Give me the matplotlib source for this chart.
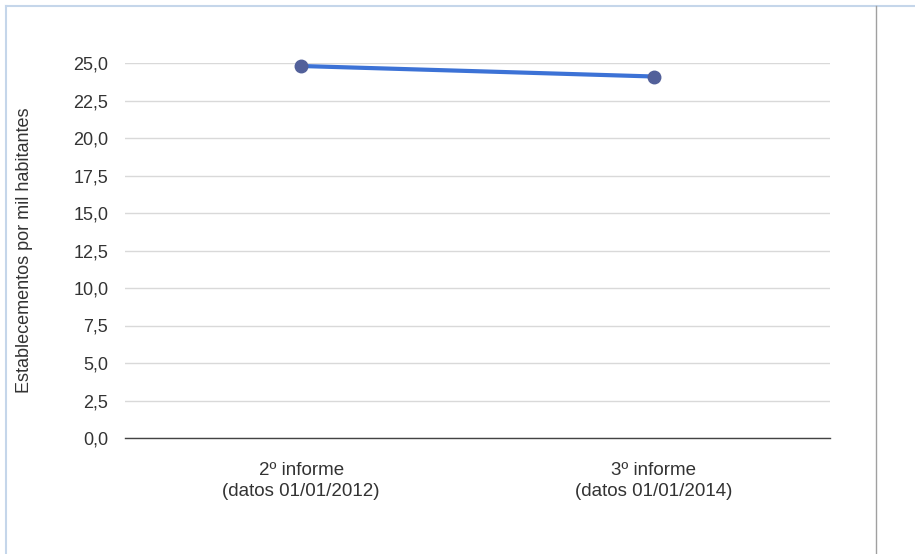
import matplotlib.pyplot as plt
from matplotlib.lines import Line2D

categories = ['2º informe\n(datos 01/01/2012)', '3º informe\n(datos 01/01/2014)']
values = [24.8, 24.1]
y_ticks = [0, 2.5, 5, 7.5, 10, 12.5, 15, 17.5, 20, 22.5, 25]

plt.rcParams['font.family'] = ['Liberation Sans', 'DejaVu Sans']

fig = plt.figure(figsize=(9.15, 5.54), dpi=100)
ax = fig.add_axes([125 / 915, 1 - 438 / 554, 705 / 915, 375 / 554])

x = list(range(len(categories)))
ax.plot(x, values, color='#3c72d6', linewidth=3, marker='o', markersize=9,
        markerfacecolor='#52609a', markeredgecolor='#52609a', clip_on=False, zorder=3)

ax.set_xlim(-0.5, 1.5)
ax.set_ylim(0, 25)
ax.set_yticks(y_ticks)
ax.set_yticklabels([f'{v:.1f}'.replace('.', ',') for v in y_ticks], fontsize=13, color='#333333')
ax.set_xticks(x)
ax.set_xticklabels(categories, fontsize=13.5, color='#333333', linespacing=1.35)
ax.tick_params(length=0)
ax.tick_params(axis='y', pad=12)
ax.tick_params(axis='x', pad=17)
ax.grid(axis='y', color='#d9d9d9', linewidth=1)
ax.set_axisbelow(True)
for s in ['top', 'right', 'left']:
    ax.spines[s].set_visible(False)
ax.spines['bottom'].set_color('#444444')
ax.spines['bottom'].set_linewidth(1)

ax.set_ylabel('Establecementos por mil habitantes', fontsize=13, color='#333333')
ax.yaxis.set_label_coords(-0.13, 0.5)

# frame lines
fig.add_artist(Line2D([6 / 915, 1], [1 - 6 / 554, 1 - 6 / 554], color='#c5d6ea', linewidth=1.5))
fig.add_artist(Line2D([6 / 915, 6 / 915], [0, 1 - 6 / 554], color='#c5d6ea', linewidth=1.5))
fig.add_artist(Line2D([876 / 915, 876 / 915], [0, 1 - 6 / 554], color='#a0a0a0', linewidth=1))

fig.savefig('out.png', dpi=100)
